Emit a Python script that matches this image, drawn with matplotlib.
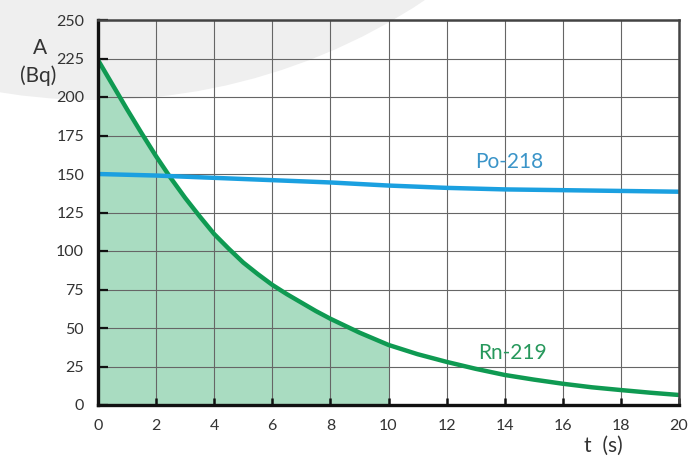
import matplotlib
matplotlib.use("Agg")
import matplotlib.pyplot as plt
from matplotlib.patches import Circle
import numpy as np

plt.rcParams['font.family'] = ['Lato', 'DejaVu Sans']

# Data
t_rn = [0, 0.5, 1, 1.5, 2, 2.5, 3, 3.5, 4, 4.5, 5, 5.5, 6, 6.5, 7, 7.5, 8, 8.5, 9, 9.5, 10,
        11, 12, 13, 14, 15, 16, 17, 18, 19, 20]
a_rn = [224, 208, 192, 176.5, 161.5, 147.5, 134.5, 122.5, 111, 101.5, 92.5, 85, 78, 72, 66.5, 61, 56, 51.5, 47, 43, 39,
        33, 28, 23.5, 19.5, 16.5, 13.8, 11.5, 9.7, 8, 6.5]
t_po = [0, 2, 4, 6, 8, 10, 12, 14, 16, 18, 20]
a_po = [150, 149, 147.5, 146, 144.5, 142.5, 141, 140, 139.5, 139, 138.5]
fill_end = 10
x_ticks = [0, 2, 4, 6, 8, 10, 12, 14, 16, 18, 20]
y_ticks = [0, 25, 50, 75, 100, 125, 150, 175, 200, 225, 250]

W, H = 693, 457
fig = plt.figure(figsize=(W / 100, H / 100), dpi=100)

# background decoration
bg = fig.add_axes([0, 0, 1, 1])
bg.set_xlim(0, W)
bg.set_ylim(H, 0)
bg.axis('off')
bg.add_patch(Circle((95, -495), 595, facecolor='#efefef', edgecolor='none'))

L, R, T, B = 98, 679, 20, 405
ax = fig.add_axes([L / W, 1 - B / H, (R - L) / W, (B - T) / H])
ax.patch.set_alpha(0)

green = '#0f9a52'
blue = '#1ba0e0'

t_arr = np.array(t_rn)
a_arr = np.array(a_rn)
mask = t_arr <= fill_end
ax.fill_between(t_arr[mask], 0, a_arr[mask], color='#a9dcc1', zorder=1, linewidth=0)
ax.plot(t_rn, a_rn, color=green, lw=3.2, zorder=4, solid_joinstyle='round')
ax.plot(t_po, a_po, color=blue, lw=3.2, zorder=4, solid_joinstyle='round')

ax.set_xlim(0, 20)
ax.set_ylim(0, 250)
ax.set_xticks(x_ticks)
ax.set_yticks(y_ticks)
ax.set_axisbelow(False)
ax.grid(True, color='#666666', lw=0.8, zorder=2)

ax.tick_params(axis='y', direction='in', length=7, width=1.6, color='#111111',
               labelsize=11.5, labelcolor='#333333', pad=10)
ax.tick_params(axis='x', direction='in', length=5, width=1.8, color='#111111',
               labelsize=11.5, labelcolor='#333333', pad=10)

for side in ['left', 'bottom']:
    ax.spines[side].set_linewidth(2.4)
    ax.spines[side].set_color('#111111')
for side in ['top', 'right']:
    ax.spines[side].set_linewidth(1.8)
    ax.spines[side].set_color('#444444')
for s in ax.spines.values():
    s.set_zorder(5)

ax.text(14.15, 158, 'Po-218', color='#3a94c8', fontsize=15, ha='center', va='center', zorder=6)
ax.text(14.25, 34, 'Rn-219', color='#27985c', fontsize=15, ha='center', va='center', zorder=6)

fig.text(40 / W, 1 - 48 / H, 'A', fontsize=15, color='#333333', ha='center', va='center')
fig.text(38 / W, 1 - 76 / H, '(Bq)', fontsize=15, color='#333333', ha='center', va='center')
fig.text(603 / W, 1 - 446 / H, 't  (s)', fontsize=15, color='#333333', ha='center', va='center')

fig.savefig('out.png', dpi=100)
